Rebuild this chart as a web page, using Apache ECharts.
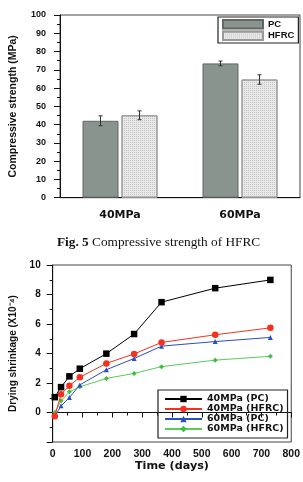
<!DOCTYPE html>
<html><head><meta charset="utf-8">
<script src="https://cdn.jsdelivr.net/npm/echarts@6/dist/echarts.min.js"></script>
<style>html,body{margin:0;padding:0;background:#fff}#c{width:303px;height:482px}</style>
</head><body><div id="c"></div>
<script>
// ---- Fig. 5 data: compressive strength ----
const strengthCategories = ['40MPa', '60MPa'];
const pcStrength = [42.1, 73.5];
const hfrcStrength = [45.1, 64.7];
const pcError = [2.7, 1.3];
const hfrcError = [2.4, 2.6];

// ---- drying shrinkage data ----
const days = [7, 28, 56, 91, 180, 273, 365, 545, 730];
const mpa40PC = [1.04, 1.72, 2.45, 2.97, 3.99, 5.32, 7.48, 8.43, 8.99];
const mpa40HFRC = [-0.25, 1.23, 1.81, 2.39, 3.33, 3.97, 4.75, 5.27, 5.74];
const mpa60PC = [-0.27, 0.45, 1.01, 1.87, 2.90, 3.66, 4.50, 4.81, 5.09];
const mpa60HFRC = [0.0, 0.79, 1.40, 1.74, 2.31, 2.65, 3.11, 3.55, 3.81];

const F = 'Liberation Sans, Arial, sans-serif';
const FW = 'DejaVu Sans, Verdana, sans-serif';
const BAR_W = 36, BAR_GAP_PX = 3;
const OFF = (BAR_W + BAR_GAP_PX) / 2;

function errorBars(values, errors, offsetPx) {
  return {
    type: 'custom', xAxisIndex: 0, yAxisIndex: 0, z: 5, silent: true,
    data: values.map((v, i) => [i, v, errors[i]]),
    renderItem(params, api) {
      const i = api.value(0), v = api.value(1), e = api.value(2);
      const x = api.coord([i, v])[0] + offsetPx;
      const yTop = api.coord([i, v + e])[1];
      const yBot = api.coord([i, v - e])[1];
      const c = 2;
      const st = { stroke: '#333', lineWidth: 1 };
      return { type: 'group', children: [
        { type: 'line', shape: { x1: x, y1: yTop, x2: x, y2: yBot }, style: st },
        { type: 'line', shape: { x1: x - c, y1: yTop, x2: x + c, y2: yTop }, style: st },
        { type: 'line', shape: { x1: x - c, y1: yBot, x2: x + c, y2: yBot }, style: st }
      ]};
    }
  };
}

function pts(arr) { return days.map((d, i) => [d, arr[i]]); }

const axisLine = { show: true, lineStyle: { color: '#111', width: 1 } };

const option = {
  animation: false,
  backgroundColor: '#fff',
  title: {
    text: '{b|Fig. 5} Compressive strength of HFRC',
    left: 52, top: 231,
    textStyle: {
      fontFamily: 'Liberation Serif, Times New Roman, serif', fontSize: 13.3,
      fontWeight: 'normal', color: '#111',
      rich: { b: { fontFamily: 'Liberation Serif, Times New Roman, serif', fontSize: 13.3, fontWeight: 'bold', color: '#111' } }
    }
  },
  grid: [
    { left: 59, top: 15, width: 241, height: 182.7, show: true, borderColor: '#444', borderWidth: 1 },
    { left: 52.7, top: 265, width: 240.3, height: 177, show: true, borderColor: '#444', borderWidth: 1 }
  ],
  legend: [
    {
      data: ['PC', 'HFRC'], left: 218, top: 17, orient: 'vertical', icon: 'rect',
      itemWidth: 40, itemHeight: 8.5, itemGap: 1, padding: [2, 4, 2, 4],
      borderColor: '#222', borderWidth: 1.2,
      textStyle: { fontFamily: F, fontWeight: 'bold', fontSize: 9.5, lineHeight: 10, color: '#111' }
    },
    {
      data: ['40MPa (PC)', '40MPa (HFRC)', '60MPa (PC)', '60MPa (HFRC)'],
      left: 158, top: 390, orient: 'vertical',
      itemWidth: 37, itemHeight: 8, itemGap: 0, padding: [4, 4, 4, 6],
      borderColor: '#222', borderWidth: 1.2,
      textStyle: { fontFamily: FW, fontWeight: 'bold', fontSize: 9.5, lineHeight: 10, color: '#111' }
    }
  ],
  xAxis: [
    {
      type: 'category', gridIndex: 0, data: strengthCategories,
      axisLine, axisTick: { show: false },
      axisLabel: { fontFamily: FW, fontWeight: 'bold', fontSize: 11, color: '#111', margin: 12 }
    },
    {
      type: 'value', gridIndex: 1, min: 0, max: 800, interval: 100,
      axisLine, splitLine: { show: false },
      axisTick: { show: true, length: 5, lineStyle: { color: '#111' } },
      minorTick: { show: true, splitNumber: 2, length: 3, lineStyle: { color: '#111' } },
      axisLabel: { fontFamily: F, fontWeight: 'bold', fontSize: 10.5, color: '#111', margin: 7 },
      name: 'Time (days)', nameLocation: 'middle', nameGap: 18,
      nameTextStyle: { fontFamily: FW, fontWeight: 'bold', fontSize: 11.2, color: '#111' }
    }
  ],
  yAxis: [
    {
      type: 'value', gridIndex: 0, min: 0, max: 100, interval: 10,
      axisLine, splitLine: { show: false },
      axisTick: { show: true, length: 6, lineStyle: { color: '#111' } },
      minorTick: { show: true, splitNumber: 2, length: 3, lineStyle: { color: '#111' } },
      axisLabel: { fontFamily: F, fontWeight: 'bold', fontSize: 9, color: '#111', margin: 14 },
      name: 'Compressive strength (MPa)', nameLocation: 'middle', nameGap: 41,
      nameTextStyle: { fontFamily: F, fontWeight: 'bold', fontSize: 10.5, color: '#111' }
    },
    {
      type: 'value', gridIndex: 1, min: -2, max: 10, interval: 2,
      axisLine, splitLine: { show: false },
      axisTick: { show: true, length: 6, lineStyle: { color: '#111' } },
      minorTick: { show: true, splitNumber: 2, length: 3, lineStyle: { color: '#111' } },
      axisLabel: { fontFamily: F, fontWeight: 'bold', fontSize: 10, color: '#111', margin: 12,
        formatter: v => (v < 0 ? '' : String(v)) },
      name: 'Drying shrinkage (X10⁻⁴)', nameLocation: 'middle', nameGap: 34,
      nameTextStyle: { fontFamily: F, fontWeight: 'bold', fontSize: 10, color: '#111' }
    }
  ],
  series: [
    {
      name: 'PC', type: 'bar', xAxisIndex: 0, yAxisIndex: 0, data: pcStrength,
      barWidth: BAR_W, barGap: (BAR_GAP_PX / BAR_W * 100) + '%',
      itemStyle: { color: '#89948f', borderColor: '#5f6864', borderWidth: 1 }
    },
    {
      name: 'HFRC', type: 'bar', xAxisIndex: 0, yAxisIndex: 0, data: hfrcStrength,
      barWidth: BAR_W,
      itemStyle: {
        color: '#e9e9e9', borderColor: '#9a9a9a', borderWidth: 1,
        decal: { symbol: 'rect', symbolSize: 1, dashArrayX: [1, 1], dashArrayY: [1, 1], color: 'rgba(150,150,150,0.45)' }
      }
    },
    errorBars(pcStrength, pcError, -OFF),
    errorBars(hfrcStrength, hfrcError, OFF),
    {
      name: '40MPa (PC)', type: 'line', xAxisIndex: 1, yAxisIndex: 1, data: pts(mpa40PC),
      symbol: 'rect', symbolSize: 6.5, color: '#000', lineStyle: { width: 1, color: '#000' }, z: 4
    },
    {
      name: '40MPa (HFRC)', type: 'line', xAxisIndex: 1, yAxisIndex: 1, data: pts(mpa40HFRC),
      symbol: 'circle', symbolSize: 6.5, color: '#f5301f', lineStyle: { width: 1, color: '#f5301f' }, z: 3
    },
    {
      name: '60MPa (PC)', type: 'line', xAxisIndex: 1, yAxisIndex: 1, data: pts(mpa60PC),
      symbol: 'triangle', symbolSize: 5, color: '#2a4fc0', lineStyle: { width: 1, color: '#2a4fc0' }, z: 2
    },
    {
      name: '60MPa (HFRC)', type: 'line', xAxisIndex: 1, yAxisIndex: 1, data: pts(mpa60HFRC),
      symbol: 'diamond', symbolSize: 5, color: '#3cbf3c', lineStyle: { width: 1, color: '#5acb5a' }, z: 1
    }
  ]
};

const chart = echarts.init(document.getElementById('c'), null, { renderer: 'canvas' });
chart.setOption(option);
</script>
</body></html>
